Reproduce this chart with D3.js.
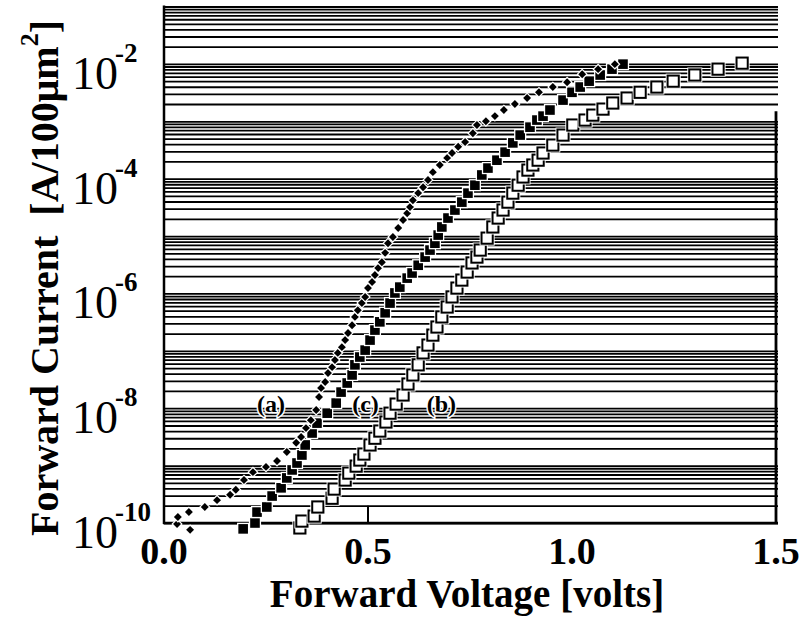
<!DOCTYPE html>
<html>
<head>
<meta charset="utf-8">
<script src="https://cdn.jsdelivr.net/npm/d3@7"></script>
<style>
  html, body { margin: 0; padding: 0; background: #fff; }
  svg { display: block; }
</style>
</head>
<body>
<svg id="chart" width="800" height="625"></svg>
<script>
// Forward I-V characteristics of three diodes, (a), (b) and (c)
const xTickLabels = ["0.0", "0.5", "1.0", "1.5"];
const xTickValues = [0, 0.5, 1.0, 1.5];
const yLabelExponents = [-2, -4, -6, -8, -10];
const curveLabels = ["(a)", "(c)", "(b)"];
const curveLabelAt = [[0.262, 1.0e-8], [0.494, 1.0e-8], [0.680, 1.0e-8]];

// (a): small filled diamonds
const voltsA = [0.032, 0.034, 0.064, 0.061, 0.100, 0.130, 0.162, 0.176, 0.196, 0.218,
  0.250, 0.277, 0.301, 0.324, 0.336, 0.348, 0.360, 0.373, 0.380, 0.385,
  0.395, 0.402, 0.412, 0.419, 0.426, 0.436, 0.444, 0.451, 0.461, 0.468,
  0.475, 0.485, 0.493, 0.500, 0.510, 0.517, 0.525, 0.534, 0.542, 0.549,
  0.561, 0.574, 0.586, 0.596, 0.603, 0.610, 0.623, 0.635, 0.647, 0.659,
  0.676, 0.694, 0.706, 0.721, 0.738, 0.757, 0.767, 0.789, 0.811, 0.833,
  0.860, 0.890, 0.919, 0.953, 0.988, 1.025, 1.064, 1.105];
const ampsA = [9.6e-11, 1.27e-10, 7.6e-11, 1.55e-10, 1.9e-10, 2.5e-10, 3.1e-10, 3.8e-10, 5.6e-10, 7.7e-10,
  9.5e-10, 1.2e-9, 1.73e-9, 2.5e-9, 3.15e-9, 4.5e-9, 6.2e-9, 9.3e-9, 1.57e-8, 2.25e-8,
  2.86e-8, 4.1e-8, 5.2e-8, 6.9e-8, 9.2e-8, 1.16e-7, 1.54e-7, 2.04e-7, 2.8e-7, 3.9e-7,
  5.1e-7, 6.8e-7, 8.7e-7, 1.24e-6, 1.58e-6, 2.1e-6, 2.77e-6, 3.5e-6, 5.1e-6, 7.5e-6,
  9.6e-6, 1.38e-5, 1.9e-5, 2.5e-5, 3.2e-5, 4.2e-5, 5.6e-5, 7.1e-5, 9.5e-5, 1.3e-4,
  1.73e-4, 2.3e-4, 2.8e-4, 3.6e-4, 4.35e-4, 6.2e-4, 8.6e-4, 1.0e-3, 1.23e-3, 1.57e-3,
  2.0e-3, 2.54e-3, 3.2e-3, 3.95e-3, 4.8e-3, 6.6e-3, 8.1e-3, 9.9e-3];

// (c): filled squares
const voltsC = [0.194, 0.223, 0.228, 0.252, 0.265, 0.287, 0.301, 0.314, 0.326, 0.338,
  0.346, 0.363, 0.375, 0.400, 0.422, 0.434, 0.449, 0.461, 0.468, 0.480,
  0.493, 0.505, 0.517, 0.529, 0.542, 0.554, 0.566, 0.578, 0.596, 0.608,
  0.623, 0.640, 0.652, 0.664, 0.672, 0.681, 0.696, 0.713, 0.730, 0.745,
  0.762, 0.779, 0.794, 0.816, 0.836, 0.855, 0.873, 0.897, 0.914, 0.929,
  0.946, 0.978, 1.000, 1.020, 1.042, 1.069, 1.098, 1.125];
const ampsC = [7.9e-11, 1.0e-10, 1.55e-10, 1.9e-10, 2.95e-10, 4.1e-10, 6.1e-10, 8.4e-10, 1.11e-9, 1.53e-9,
  2.29e-9, 3.7e-9, 5.5e-9, 8.2e-9, 1.23e-8, 1.91e-8, 2.75e-8, 3.8e-8, 5.7e-8, 7.8e-8,
  1.03e-7, 1.54e-7, 2.3e-7, 3.2e-7, 4.6e-7, 6.8e-7, 1.02e-6, 1.29e-6, 1.85e-6, 2.27e-6,
  3.1e-6, 4.3e-6, 5.7e-6, 7.5e-6, 1.04e-5, 1.44e-5, 2.06e-5, 2.84e-5, 3.9e-5, 5.6e-5,
  7.7e-5, 1.16e-4, 1.53e-4, 2.1e-4, 2.9e-4, 4.2e-4, 5.75e-4, 7.9e-4, 1.05e-3, 1.23e-3,
  1.57e-3, 2.34e-3, 3.2e-3, 3.95e-3, 5.0e-3, 6.4e-3, 8.1e-3, 9.9e-3];

// (b): open squares
const voltsB = [0.333, 0.338, 0.368, 0.377, 0.412, 0.417, 0.444, 0.453, 0.471, 0.480,
  0.490, 0.505, 0.517, 0.529, 0.544, 0.554, 0.569, 0.586, 0.598, 0.610,
  0.623, 0.635, 0.647, 0.659, 0.669, 0.681, 0.694, 0.706, 0.718, 0.730,
  0.743, 0.755, 0.767, 0.775, 0.792, 0.806, 0.819, 0.831, 0.843, 0.855,
  0.868, 0.880, 0.892, 0.904, 0.917, 0.929, 0.953, 0.978, 1.002, 1.032,
  1.051, 1.076, 1.100, 1.135, 1.167, 1.208, 1.248, 1.301, 1.358, 1.417];
const ampsB = [8.2e-11, 1.08e-10, 1.32e-10, 1.9e-10, 2.7e-10, 3.9e-10, 5.6e-10, 7.4e-10, 9.8e-10, 1.25e-9,
  1.59e-9, 2.29e-9, 3.0e-9, 4.0e-9, 5.75e-9, 8.2e-9, 1.18e-8, 1.7e-8, 2.64e-8, 3.8e-8,
  5.7e-8, 9.2e-8, 1.26e-7, 1.88e-7, 2.6e-7, 3.9e-7, 5.8e-7, 8.7e-7, 1.24e-6, 1.71e-6,
  2.36e-6, 3.4e-6, 4.3e-6, 5.7e-6, 9.2e-6, 1.44e-5, 2.06e-5, 2.84e-5, 3.9e-5, 5.6e-5,
  7.7e-5, 1.07e-4, 1.41e-4, 1.73e-4, 2.1e-4, 2.8e-4, 3.85e-4, 5.75e-4, 8.6e-4, 1.05e-3,
  1.28e-3, 1.63e-3, 2.08e-3, 2.54e-3, 3.2e-3, 3.95e-3, 5.0e-3, 6.4e-3, 8.1e-3, 1.03e-2];

const svg = d3.select("#chart");
const plotLeft = 164, plotRight = 776, plotBottom = 523, plotTop = 6.5;
const serif = "'Liberation Serif', 'Times New Roman', serif";

const x = d3.scaleLinear().domain([0, 1.5]).range([plotLeft, plotRight]);
const y = d3.scaleLog().domain([1e-10, 1e-1]).range([plotBottom, plotTop]);

// horizontal rules at every 1..9 x 10^n step
const gridValues = [];
for (let e = -10; e <= -2; e++) for (let k = 1; k <= 9; k++) gridValues.push(k * Math.pow(10, e));
gridValues.push(1e-1);

const grid = svg.append("g")
  .attr("transform", `translate(${plotLeft},0)`)
  .call(d3.axisRight(y).tickValues(gridValues).tickSize(plotRight + 2 - plotLeft).tickFormat(""));
grid.select(".domain").remove();
grid.selectAll(".tick line").attr("stroke", "#000").attr("stroke-width", 1.8);

// frame
svg.append("line").attr("x1", plotLeft).attr("x2", plotLeft).attr("y1", plotTop - 1).attr("y2", plotBottom + 1)
  .attr("stroke", "#000").attr("stroke-width", 2.5);
svg.append("line").attr("x1", plotLeft - 1).attr("x2", plotRight + 2).attr("y1", plotBottom).attr("y2", plotBottom)
  .attr("stroke", "#000").attr("stroke-width", 2.5);
svg.append("line").attr("x1", plotRight).attr("x2", plotRight).attr("y1", y(1.5e-3)).attr("y2", plotBottom + 1)
  .attr("stroke", "#000").attr("stroke-width", 2.8);

// single inner tick at 0.5 V
svg.append("line").attr("x1", x(0.5)).attr("x2", x(0.5)).attr("y1", y(2e-10)).attr("y2", plotBottom)
  .attr("stroke", "#000").attr("stroke-width", 2);

// x tick labels
svg.append("g").selectAll("text").data(xTickValues).join("text")
  .attr("x", d => x(d)).attr("y", 564)
  .attr("text-anchor", "middle")
  .attr("font-family", serif).attr("font-weight", "bold").attr("font-size", 38)
  .text((d, i) => xTickLabels[i]);

// y tick labels: 10^n
const yl = svg.append("g").selectAll("g").data(yLabelExponents).join("g");
yl.append("text")
  .attr("x", 72).attr("y", d => y(Math.pow(10, d)) + 25)
  .attr("font-family", serif).attr("font-size", 46)
  .text("10");
yl.append("text")
  .attr("x", 115).attr("y", d => y(Math.pow(10, d)) - 2)
  .attr("font-family", serif).attr("font-weight", "bold").attr("font-size", 27)
  .text(d => "-" + Math.abs(d));

// axis titles
svg.append("text")
  .attr("x", 467).attr("y", 607)
  .attr("text-anchor", "middle")
  .attr("font-family", serif).attr("font-weight", "bold").attr("font-size", 39)
  .text("Forward Voltage [volts]");

const yt = svg.append("text")
  .attr("transform", "translate(58,278) rotate(-90)")
  .attr("text-anchor", "middle")
  .attr("font-family", serif).attr("font-weight", "bold").attr("font-size", 40)
  .attr("xml:space", "preserve");
yt.append("tspan").text("Forward Current  [A/100\u03bcm");
yt.append("tspan").attr("dy", -20).attr("font-size", 26).text("2");
yt.append("tspan").attr("dy", 20).text("]");

// markers: each one drawn with a white halo so later points sit on top of earlier ones
function pts(vs, is) { return vs.map((v, i) => [x(v), y(is[i])]); }

const gB = svg.append("g");
pts(voltsB, ampsB).forEach(([px, py]) => {
  gB.append("rect").attr("x", px - 7.5).attr("y", py - 7.5).attr("width", 15).attr("height", 15).attr("fill", "#fff");
  gB.append("rect").attr("x", px - 5.6).attr("y", py - 5.6).attr("width", 11.2).attr("height", 11.2)
    .attr("fill", "#fff").attr("stroke", "#000").attr("stroke-width", 2);
});

const gC = svg.append("g");
pts(voltsC, ampsC).forEach(([px, py]) => {
  gC.append("rect").attr("x", px - 4.8).attr("y", py - 4.8).attr("width", 9.6).attr("height", 9.6)
    .attr("fill", "#000").attr("stroke", "#fff").attr("stroke-width", 2.6).attr("paint-order", "stroke");
});

const diamond = d3.symbol().type(d3.symbolDiamond2).size(40);
const gA = svg.append("g");
pts(voltsA, ampsA).forEach(([px, py]) => {
  gA.append("path").attr("d", diamond).attr("transform", `translate(${px},${py})`)
    .attr("fill", "#000").attr("stroke", "#fff").attr("stroke-width", 2.4).attr("paint-order", "stroke");
});

// curve labels
svg.append("g").selectAll("text").data(curveLabels).join("text")
  .attr("x", (d, i) => x(curveLabelAt[i][0])).attr("y", (d, i) => y(curveLabelAt[i][1]) + 4)
  .attr("text-anchor", "middle")
  .attr("font-family", serif).attr("font-weight", "bold").attr("font-size", 24)
  .attr("stroke", "#fff").attr("stroke-width", 3).attr("paint-order", "stroke")
  .text(d => d);
</script>
</body>
</html>
